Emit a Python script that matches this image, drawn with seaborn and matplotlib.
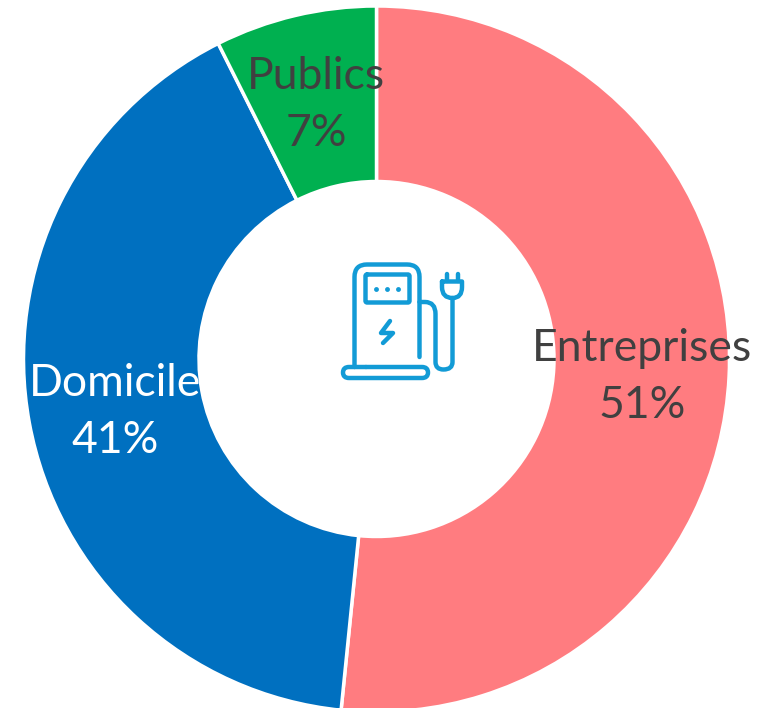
import matplotlib.pyplot as plt
import seaborn as sns
from matplotlib.patches import PathPatch
from matplotlib.path import Path

categories = ['Entreprises', 'Domicile', 'Publics']
shares = [51.6, 41.0, 7.4]
pct_labels = ['51%', '41%', '7%']
colors = ['#FF7C80', '#0070C0', '#00B050']
text_colors = ['#404040', '#FFFFFF', '#404040']
icon_color = '#129BD6'

sns.set_theme(style='white')
plt.rcParams['font.family'] = ['Lato', 'DejaVu Sans']

W, H = 771, 708
fig = plt.figure(figsize=(W / 100, H / 100), dpi=100)
ax = fig.add_axes([0, 0, 1, 1])

cx, cy, R = 376.5, 359, 353
# y axis is flipped below, so counterclock + 270 reads clockwise from the top
ax.pie(shares, colors=colors, startangle=270, counterclock=True,
       center=(cx, cy), radius=R, frame=False,
       wedgeprops=dict(width=R - 177.5, edgecolor='white', linewidth=2.5))
ax.set_aspect('equal')
ax.set_xlim(0, W)
ax.set_ylim(H, 0)
ax.axis('off')

label_pos = [(642, 377), (115, 412), (316, 105)]
for name, pct, col, (x, y) in zip(categories, pct_labels, text_colors, label_pos):
    ax.text(x, y, f'{name}\n{pct}', color=col, fontsize=32, ha='center', va='center', linespacing=1.5)


def stroke(points):
    # points: (x, y) is a line vertex, (x, y, cx, cy) a curve to x, y through control cx, cy
    verts, codes = [points[0]], [Path.MOVETO]
    for p in points[1:]:
        if len(p) == 2:
            verts.append(p)
            codes.append(Path.LINETO)
        else:
            verts += [(p[2], p[3]), (p[0], p[1])]
            codes += [Path.CURVE3, Path.CURVE3]
    ax.add_patch(PathPatch(Path(verts, codes), fc='none', ec=icon_color, lw=3.2,
                           capstyle='round', joinstyle='round'))


# charging station icon
stroke([(366, 367), (354.5, 367), (354.5, 277), (367, 264.5, 354.5, 264.5), (407, 264.5),
        (419.5, 277, 419.5, 264.5), (419.5, 357)])
stroke([(367, 274.5), (408, 274.5), (409.5, 276, 409.5, 274.5), (409.5, 301), (408, 302.5, 409.5, 302.5),
        (367, 302.5), (365.5, 301, 365.5, 302.5), (365.5, 276), (367, 274.5, 365.5, 274.5)])
ax.plot([376, 387, 398], [289, 289, 289], ls='none', marker='o', ms=3.5, mew=0, color=icon_color)
stroke([(390, 321), (381, 333), (393, 333), (383, 343)])
stroke([(366, 367), (422, 367), (428, 372.5, 428, 367), (422, 378, 428, 378), (349, 378),
        (343, 372.5, 343, 378), (349, 367, 343, 367), (354.5, 367)])
stroke([(419.5, 302), (425, 302), (435.5, 314, 435.5, 302), (435.5, 362), (443.5, 369.5, 435.5, 369.5),
        (452.5, 362, 452.5, 369.5), (452.5, 298)])
stroke([(442, 281.5), (462, 281.5), (462, 287), (452.5, 298, 462, 298), (442, 287, 442, 298), (442, 281.5)])
stroke([(446.5, 274), (446.5, 281)])
stroke([(457.5, 274), (457.5, 281)])

fig.savefig('out.png', dpi=100)
